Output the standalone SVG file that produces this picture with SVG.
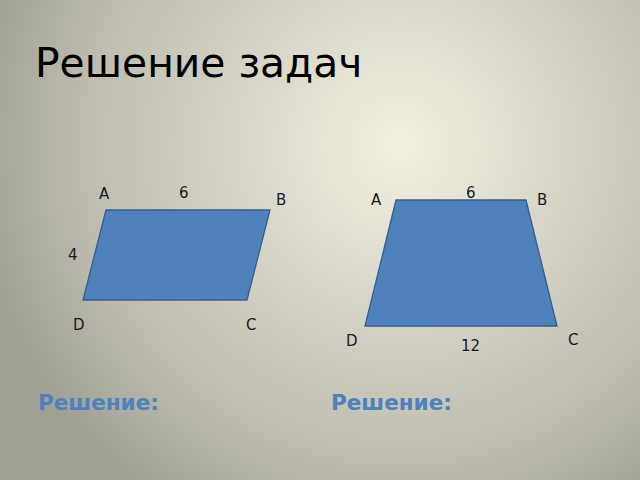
<svg xmlns="http://www.w3.org/2000/svg" width="640" height="480" viewBox="0 0 640 480">
<defs>
<radialGradient id="bg" gradientUnits="userSpaceOnUse" cx="400" cy="145" r="430">
<stop offset="0" stop-color="#f3f1e1"/>
<stop offset="0.35" stop-color="#d9d7c9"/>
<stop offset="0.75" stop-color="#bcbbae"/>
<stop offset="1" stop-color="#a0a095"/>
</radialGradient>
<style>
.shape{fill:#4f81bd;stroke:#385d8a;stroke-width:1.3}
.lbl{font-family:"DejaVu Sans",sans-serif;font-size:15px;fill:#1a1a1a}
.sol{font-family:"DejaVu Sans",sans-serif;font-size:21.5px;font-weight:bold;fill:#4f81bd}
</style>
</defs>
<rect width="640" height="480" fill="url(#bg)"/>
<text x="35" y="77" font-family="DejaVu Sans, sans-serif" font-size="40.8" fill="#000">Решение задач</text>
<g id="parallelogram">
<polygon class="shape" points="106,210 270,210 247,300 83,300"/>
<text class="lbl" x="99" y="199">A</text>
<text class="lbl" x="179" y="198">6</text>
<text class="lbl" x="276" y="205">B</text>
<text class="lbl" x="68" y="260">4</text>
<text class="lbl" x="73" y="330">D</text>
<text class="lbl" x="246" y="330">C</text>
</g>
<g id="trapezoid">
<polygon class="shape" points="396,200 526,200 557,326 365,326"/>
<text class="lbl" x="371" y="205">A</text>
<text class="lbl" x="466" y="198">6</text>
<text class="lbl" x="537" y="205">B</text>
<text class="lbl" x="346" y="346">D</text>
<text class="lbl" x="568" y="345">C</text>
<text class="lbl" x="461" y="351">12</text>
</g>
<text class="sol" x="38" y="410">Решение:</text>
<text class="sol" x="331" y="410">Решение:</text>
</svg>
